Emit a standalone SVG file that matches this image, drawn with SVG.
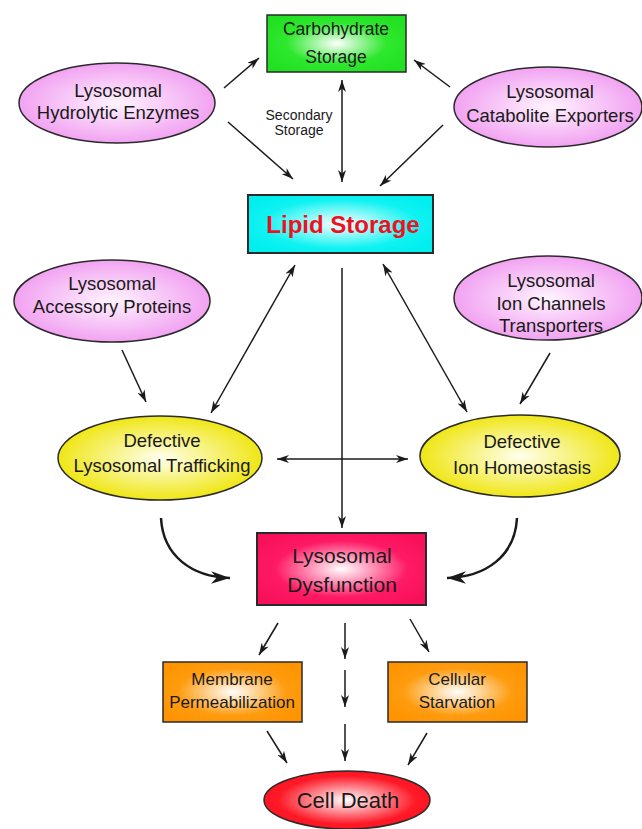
<svg xmlns="http://www.w3.org/2000/svg" width="642" height="829" viewBox="0 0 642 829">
<style>
.t{font-family:"Liberation Sans",Arial,sans-serif;fill:#1a1a1a;text-anchor:middle}
.n{stroke:#2a2a2a;stroke-width:1.5}
.c{fill:none;stroke:#1a1a1a;stroke-width:1.5}
.cb{fill:none;stroke:#1a1a1a;stroke-width:2.5}
</style>
<defs>
<radialGradient id="gGreen" cx="0.5" cy="0.5" r="0.6"><stop offset="0" stop-color="#ffffff"/><stop offset="0.6" stop-color="#2ee82e"/><stop offset="1" stop-color="#22e022"/></radialGradient>
<radialGradient id="gPink" cx="0.5" cy="0.5" r="0.55"><stop offset="0" stop-color="#fff4ff"/><stop offset="1" stop-color="#f09af0"/></radialGradient>
<radialGradient id="gCyan" cx="0.5" cy="0.5" r="0.6"><stop offset="0" stop-color="#ffffff"/><stop offset="0.7" stop-color="#10f2f2"/><stop offset="1" stop-color="#00eeee"/></radialGradient>
<radialGradient id="gYellow" cx="0.5" cy="0.5" r="0.55"><stop offset="0" stop-color="#ffffee"/><stop offset="1" stop-color="#eee400"/></radialGradient>
<radialGradient id="gCrimson" cx="0.5" cy="0.5" r="0.6"><stop offset="0" stop-color="#ffffff"/><stop offset="0.65" stop-color="#ff1a66"/><stop offset="1" stop-color="#f8105a"/></radialGradient>
<radialGradient id="gOrange" cx="0.5" cy="0.5" r="0.6"><stop offset="0" stop-color="#ffffff"/><stop offset="0.65" stop-color="#ff9c10"/><stop offset="1" stop-color="#ff9400"/></radialGradient>
<radialGradient id="gRed" cx="0.5" cy="0.5" r="0.55"><stop offset="0" stop-color="#ffffff"/><stop offset="0.75" stop-color="#ff1a28"/><stop offset="1" stop-color="#ff1020"/></radialGradient>
<marker id="ah" viewBox="0 0 12 8" refX="12" refY="4" markerWidth="12" markerHeight="8" markerUnits="userSpaceOnUse" orient="auto-start-reverse"><path d="M0,0 L12,4 L0,8 L3.5,4 Z" fill="#1a1a1a"/></marker>
<marker id="ahb" viewBox="0 0 12 8" refX="12" refY="4" markerWidth="19" markerHeight="13" markerUnits="userSpaceOnUse" orient="auto"><path d="M0,0 L12,4 L0,8 L3.5,4 Z" fill="#1a1a1a"/></marker>
</defs>

<g id="connectors">
<path class="c" d="M224,88 L259,58" marker-end="url(#ah)"/>
<path class="c" d="M450,87 L414,60" marker-end="url(#ah)"/>
<path class="c" d="M228,122 L293,179" marker-end="url(#ah)"/>
<path class="c" d="M443,125 L380,186" marker-end="url(#ah)"/>
<path class="c" d="M342,80 L342,182" marker-start="url(#ah)" marker-end="url(#ah)"/>
<path class="c" d="M295,265 L211,413" marker-start="url(#ah)" marker-end="url(#ah)"/>
<path class="c" d="M383,264 L467,412" marker-start="url(#ah)" marker-end="url(#ah)"/>
<path class="c" d="M342,268 L342,528" marker-end="url(#ah)"/>
<path class="c" d="M277,459 L408,459" marker-start="url(#ah)" marker-end="url(#ah)"/>
<path class="c" d="M122,350 L146,402" marker-end="url(#ah)"/>
<path class="c" d="M550,353 L520,404" marker-end="url(#ah)"/>
<path class="cb" d="M161,518 C163,556 192,577 230,578" marker-end="url(#ahb)"/>
<path class="cb" d="M517,518 C515,556 486,577 447,578" marker-end="url(#ahb)"/>
<path class="c" d="M278,623 L259,655" marker-end="url(#ah)"/>
<path class="c" d="M345,623 L345,659" marker-end="url(#ah)"/>
<path class="c" d="M345,670 L345,707" marker-end="url(#ah)"/>
<path class="c" d="M345,724 L345,761" marker-end="url(#ah)"/>
<path class="c" d="M410,619 L429,652" marker-end="url(#ah)"/>
<path class="c" d="M267,731 L287,763" marker-end="url(#ah)"/>
<path class="c" d="M427,733 L408,765" marker-end="url(#ah)"/>
</g>

<g id="carbohydrate-storage">
<rect class="n" x="267" y="15" width="139" height="57" fill="url(#gGreen)"/>
<text class="t" x="336" y="35" font-size="17.5">Carbohydrate</text>
<text class="t" x="336" y="63" font-size="17.5">Storage</text>
</g>

<g id="secondary-storage-label">
<text class="t" x="299" y="120" font-size="14">Secondary</text>
<text class="t" x="299" y="135" font-size="14">Storage</text>
</g>

<g id="hydrolytic-enzymes">
<ellipse class="n" cx="117" cy="103" rx="98" ry="40" fill="url(#gPink)"/>
<text class="t" x="118" y="97" font-size="18.5">Lysosomal</text>
<text class="t" x="118" y="119" font-size="18.5">Hydrolytic Enzymes</text>
</g>

<g id="catabolite-exporters">
<ellipse class="n" cx="548" cy="107" rx="94" ry="40" fill="url(#gPink)"/>
<text class="t" x="550" y="98" font-size="18.5">Lysosomal</text>
<text class="t" x="550" y="122" font-size="18.5">Catabolite Exporters</text>
</g>

<g id="lipid-storage">
<rect x="248" y="195" width="185" height="58" fill="url(#gCyan)" stroke="#2a2a2a" stroke-width="2"/>
<text class="t" x="343" y="233" font-size="24" font-weight="bold" style="fill:#ee1122">Lipid Storage</text>
</g>

<g id="accessory-proteins">
<ellipse class="n" cx="112" cy="301" rx="98" ry="41" fill="url(#gPink)"/>
<text class="t" x="112" y="290" font-size="18.5">Lysosomal</text>
<text class="t" x="112" y="313" font-size="18.5">Accessory Proteins</text>
</g>

<g id="ion-channels">
<ellipse class="n" cx="548" cy="298" rx="94" ry="42" fill="url(#gPink)"/>
<text class="t" x="551" y="287" font-size="18.5">Lysosomal</text>
<text class="t" x="551" y="310" font-size="18.5">Ion Channels</text>
<text class="t" x="551" y="332" font-size="18.5">Transporters</text>
</g>

<g id="defective-trafficking">
<ellipse class="n" cx="160" cy="458" rx="102" ry="42" fill="url(#gYellow)"/>
<text class="t" x="162" y="447" font-size="18.5">Defective</text>
<text class="t" x="162" y="472" font-size="18.5">Lysosomal Trafficking</text>
</g>

<g id="defective-ion-homeostasis">
<ellipse class="n" cx="520" cy="456" rx="100" ry="41" fill="url(#gYellow)"/>
<text class="t" x="522" y="448" font-size="18.5">Defective</text>
<text class="t" x="522" y="474" font-size="18.5">Ion Homeostasis</text>
</g>

<g id="lysosomal-dysfunction">
<rect x="257" y="533" width="169" height="72" fill="url(#gCrimson)" stroke="#2a2a2a" stroke-width="2"/>
<text class="t" x="342" y="563" font-size="21">Lysosomal</text>
<text class="t" x="342" y="592" font-size="21">Dysfunction</text>
</g>

<g id="membrane-permeabilization">
<rect class="n" x="163" y="662" width="139" height="60" fill="url(#gOrange)"/>
<text class="t" x="232" y="685" font-size="17">Membrane</text>
<text class="t" x="232" y="708" font-size="17">Permeabilization</text>
</g>

<g id="cellular-starvation">
<rect class="n" x="388" y="662" width="139" height="60" fill="url(#gOrange)"/>
<text class="t" x="457" y="685" font-size="17">Cellular</text>
<text class="t" x="457" y="708" font-size="17">Starvation</text>
</g>

<g id="cell-death">
<ellipse class="n" cx="347" cy="800" rx="83" ry="29" fill="url(#gRed)"/>
<text class="t" x="348" y="808" font-size="22">Cell Death</text>
</g>
</svg>
